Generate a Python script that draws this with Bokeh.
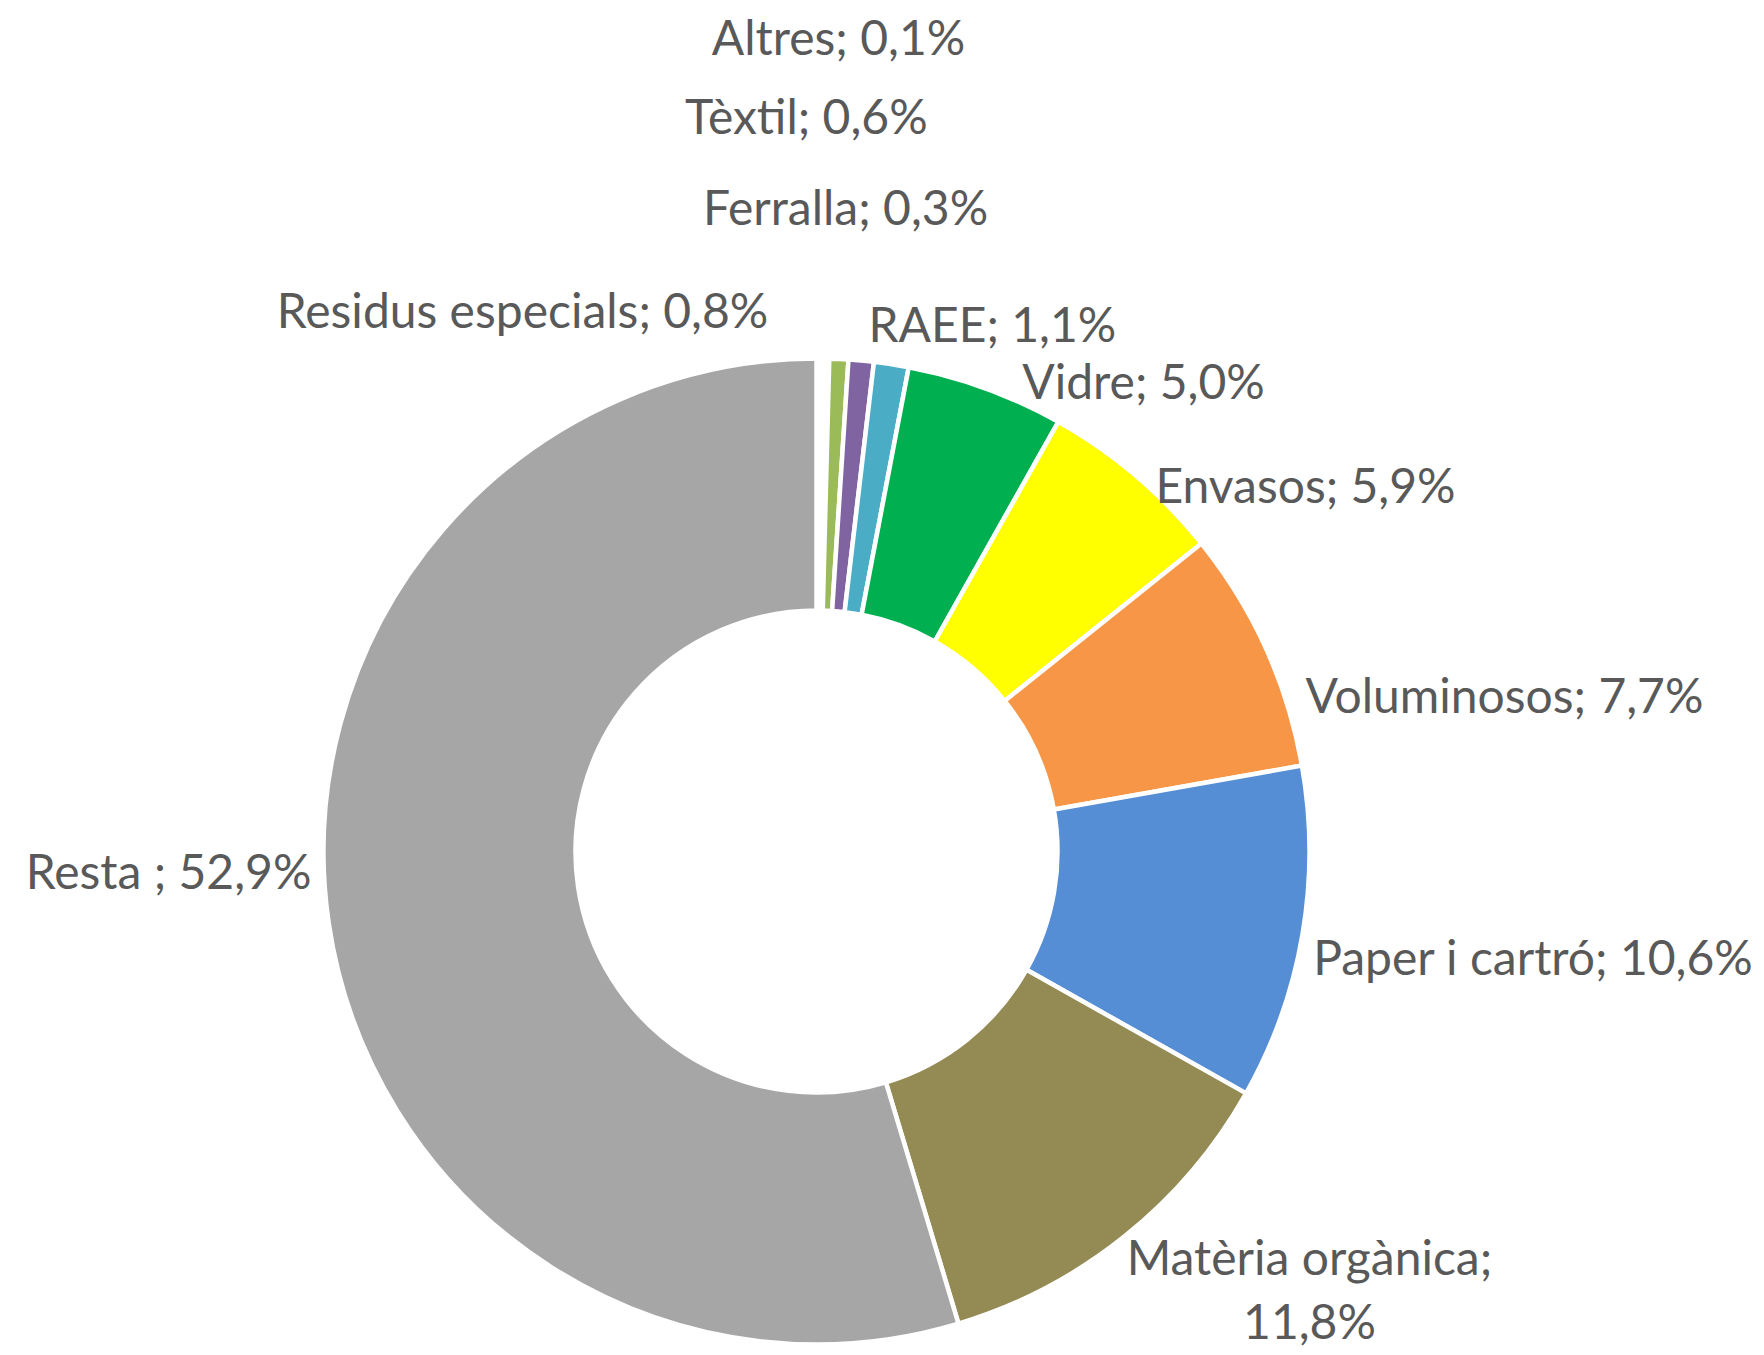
import math
from bokeh.plotting import figure
from bokeh.models import Range1d, ColumnDataSource
from bokeh.core.properties import value
from bokeh.embed import file_html
from bokeh.resources import INLINE

# ---- data (clockwise from 12 o'clock) ----
categories = ["Ferralla", "Altres", "Tèxtil", "Residus especials", "RAEE", "Vidre",
              "Envasos", "Voluminosos", "Paper i cartró", "Matèria orgànica", "Resta"]
values = [0.3, 0.1, 0.6, 0.8, 1.1, 5.0, 5.9, 7.7, 10.6, 11.8, 52.9]
labels = ["Ferralla; 0,3%", "Altres; 0,1%", "Tèxtil;  0,6%", "Residus especials; 0,8%",
          "RAEE;  1,1%", "Vidre; 5,0%", "Envasos; 5,9%", "Voluminosos; 7,7%",
          "Paper i cartró; 10,6%", "Matèria orgànica;\n11,8%", "Resta ; 52,9%"]
colors = ["#FFFFFF", "#E8B4B4", "#9BBB59", "#8064A2", "#4BACC6", "#00B050",
          "#FFFF00", "#F79646", "#558ED5", "#948A54", "#A6A6A6"]

# ---- layout (pixel space, y up) ----
W, H = 1764, 1355
CX, CY = 816, H - 851
R_OUT, R_IN = 493, 241
label_xy = [(845, H - 206), (838, H - 36), (812, H - 115), (522, H - 309),
            (998, H - 323), (1143, H - 380), (1305, H - 484), (1504, H - 694),
            (1533, H - 956), (1309, H - 1288), (168, H - 870)]

total = sum(values)
starts, ends = [], []
cum = 0.0
for v in values:
    a0 = math.pi / 2 - 2 * math.pi * cum / total
    cum += v
    a1 = math.pi / 2 - 2 * math.pi * cum / total
    starts.append(a1)
    ends.append(a0)

src = ColumnDataSource(dict(start=starts, end=ends, color=colors, cat=categories))

p = figure(width=W, height=H, output_backend="svg", toolbar_location=None,
           x_range=Range1d(0, W), y_range=Range1d(0, H),
           min_border=0, min_border_left=0, min_border_right=0,
           min_border_top=0, min_border_bottom=0)
p.axis.visible = False
p.grid.visible = False
p.outline_line_color = None
p.background_fill_color = "white"

p.annular_wedge(x=CX, y=CY, inner_radius=R_IN, outer_radius=R_OUT,
                start_angle="start", end_angle="end", fill_color="color",
                line_color="white", line_width=4.5, source=src)

lsrc = ColumnDataSource(dict(x=[xy[0] for xy in label_xy], y=[xy[1] for xy in label_xy], t=labels))
p.text(x="x", y="y", text="t", source=lsrc, text_align="center", text_baseline="middle",
       text_font=value("Lato"), text_font_size="48px", text_color="#595959",
       text_line_height=1.12)

open("out.html", "w").write(file_html(p, INLINE))
